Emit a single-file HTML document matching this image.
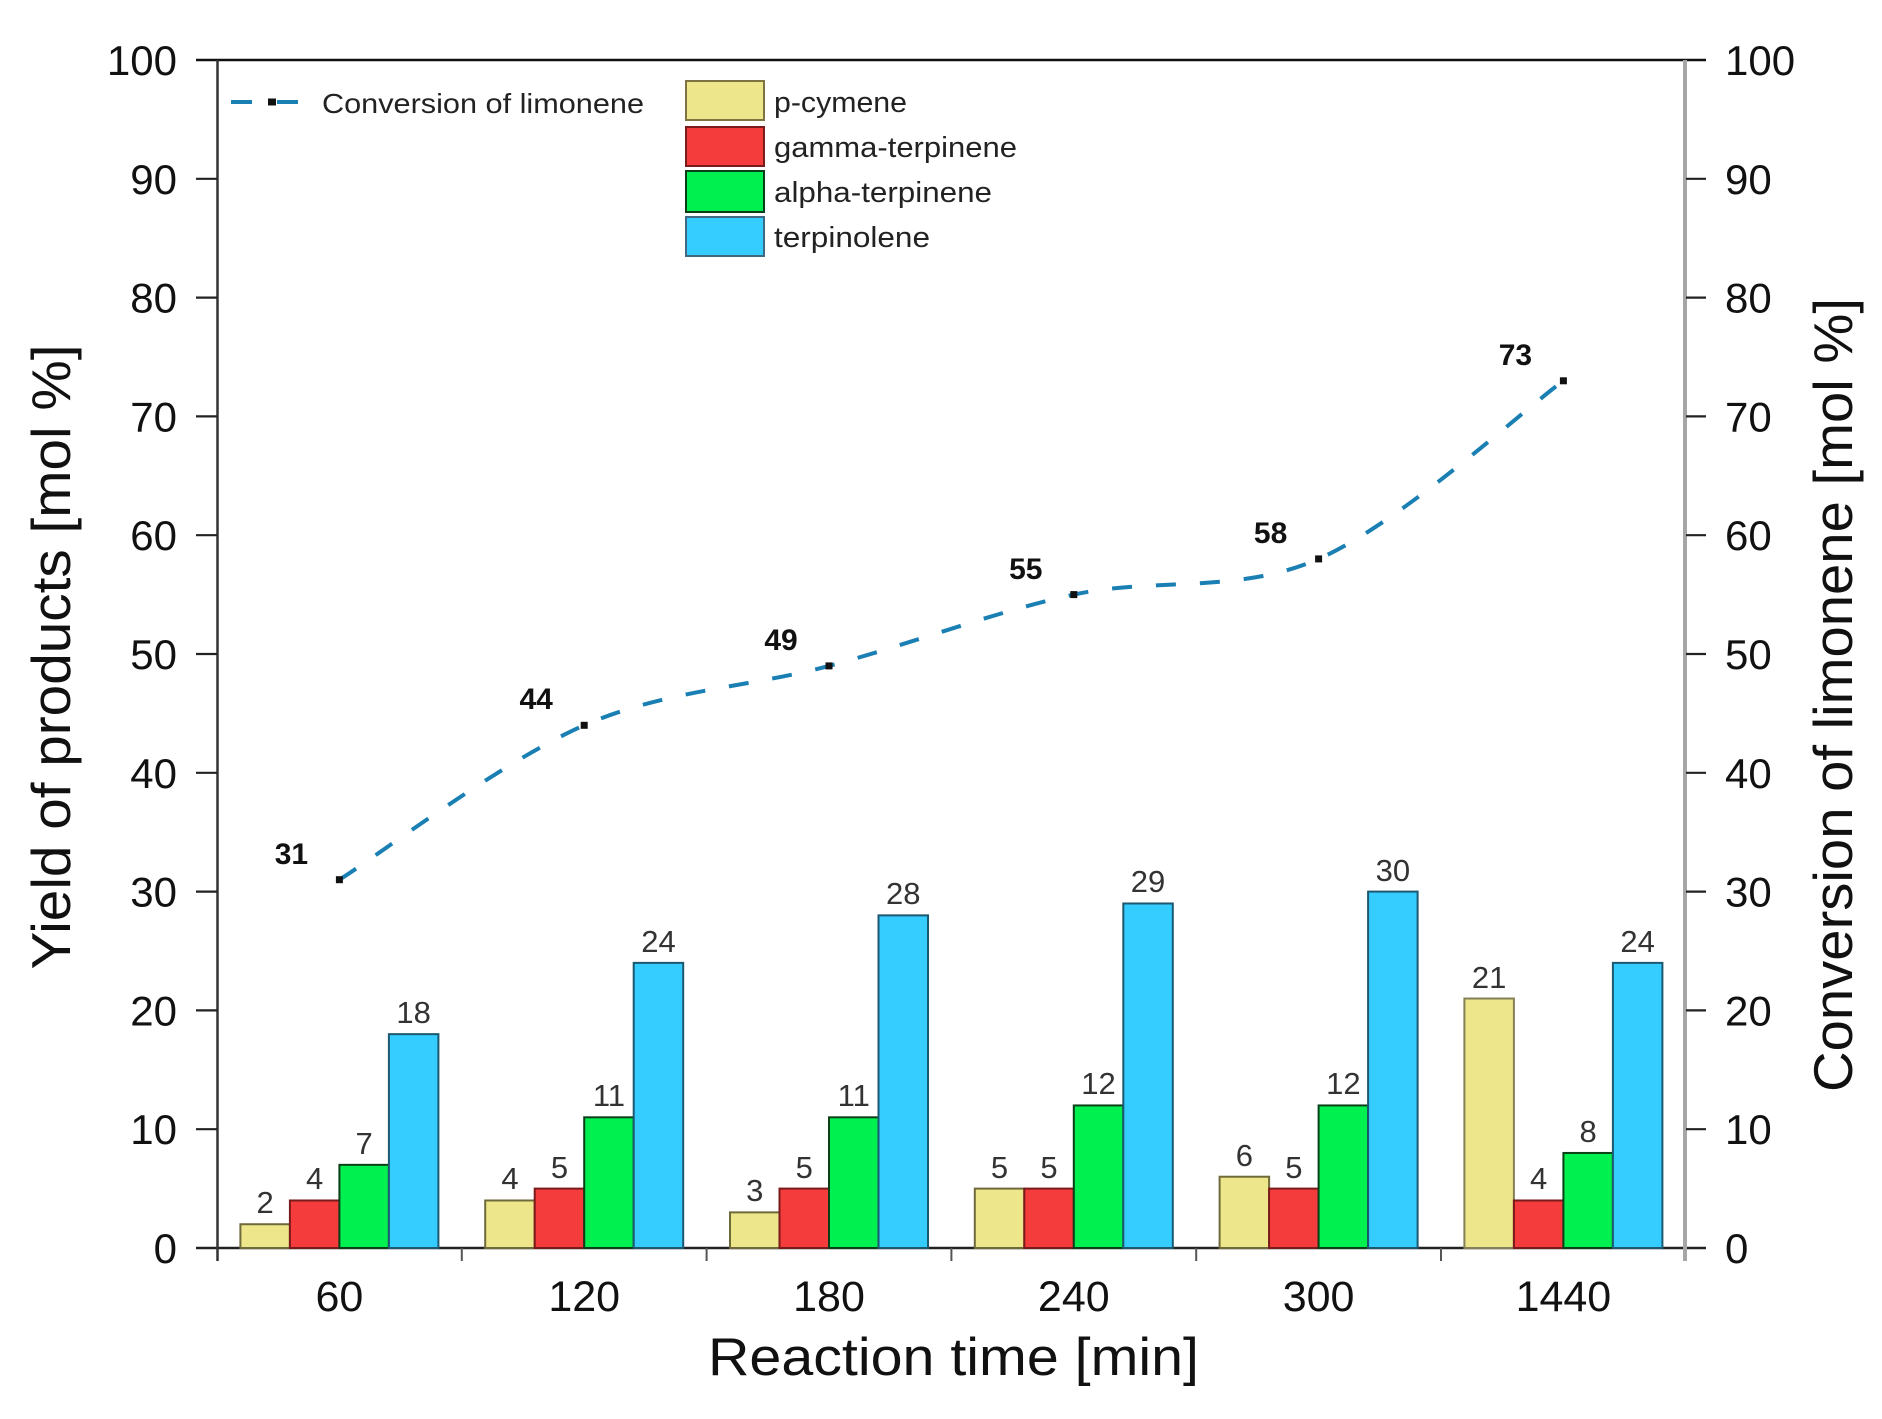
<!DOCTYPE html>
<html>
<head>
<meta charset="utf-8">
<style>
html,body{margin:0;padding:0;background:#fff;}
svg{display:block;}
text{font-family:"Liberation Sans",Arial,sans-serif;}
</style>
</head>
<body>
<svg width="1882" height="1419" viewBox="0 0 1882 1419" xmlns="http://www.w3.org/2000/svg">
<rect x="0" y="0" width="1882" height="1419" fill="#fff"/>

<!-- axes -->
<line x1="196" y1="60" x2="1706" y2="60" stroke="#111" stroke-width="2.5"/>
<line x1="196" y1="1248" x2="1706" y2="1248" stroke="#222" stroke-width="2.5"/>
<line x1="217.5" y1="60" x2="217.5" y2="1261" stroke="#333" stroke-width="2.5"/>
<line x1="1685" y1="60" x2="1685" y2="1261" stroke="#a6a6a6" stroke-width="4"/>

<!-- left ticks -->
<g stroke="#222" stroke-width="2.2">
<line x1="196" y1="1129.2" x2="217" y2="1129.2"/>
<line x1="196" y1="1010.4" x2="217" y2="1010.4"/>
<line x1="196" y1="891.6" x2="217" y2="891.6"/>
<line x1="196" y1="772.8" x2="217" y2="772.8"/>
<line x1="196" y1="654" x2="217" y2="654"/>
<line x1="196" y1="535.2" x2="217" y2="535.2"/>
<line x1="196" y1="416.4" x2="217" y2="416.4"/>
<line x1="196" y1="297.6" x2="217" y2="297.6"/>
<line x1="196" y1="178.8" x2="217" y2="178.8"/>
</g>
<!-- right ticks -->
<g stroke="#222" stroke-width="2.2">
<line x1="1686" y1="1129.2" x2="1706" y2="1129.2"/>
<line x1="1686" y1="1010.4" x2="1706" y2="1010.4"/>
<line x1="1686" y1="891.6" x2="1706" y2="891.6"/>
<line x1="1686" y1="772.8" x2="1706" y2="772.8"/>
<line x1="1686" y1="654" x2="1706" y2="654"/>
<line x1="1686" y1="535.2" x2="1706" y2="535.2"/>
<line x1="1686" y1="416.4" x2="1706" y2="416.4"/>
<line x1="1686" y1="297.6" x2="1706" y2="297.6"/>
<line x1="1686" y1="178.8" x2="1706" y2="178.8"/>
</g>
<!-- x ticks -->
<g stroke="#555" stroke-width="2">
<line x1="461.8" y1="1248" x2="461.8" y2="1261"/>
<line x1="706.6" y1="1248" x2="706.6" y2="1261"/>
<line x1="951.4" y1="1248" x2="951.4" y2="1261"/>
<line x1="1196.2" y1="1248" x2="1196.2" y2="1261"/>
<line x1="1441" y1="1248" x2="1441" y2="1261"/>
</g>

<!-- left tick labels -->
<g font-size="42" fill="#111" text-anchor="end">
<text x="177" y="1263">0</text>
<text x="177" y="1144.2">10</text>
<text x="177" y="1025.4">20</text>
<text x="177" y="906.6">30</text>
<text x="177" y="787.8">40</text>
<text x="177" y="669">50</text>
<text x="177" y="550.2">60</text>
<text x="177" y="431.4">70</text>
<text x="177" y="312.6">80</text>
<text x="177" y="193.8">90</text>
<text x="177" y="75">100</text>
</g>
<!-- right tick labels -->
<g font-size="42" fill="#111" text-anchor="start">
<text x="1725" y="1263">0</text>
<text x="1725" y="1144.2">10</text>
<text x="1725" y="1025.4">20</text>
<text x="1725" y="906.6">30</text>
<text x="1725" y="787.8">40</text>
<text x="1725" y="669">50</text>
<text x="1725" y="550.2">60</text>
<text x="1725" y="431.4">70</text>
<text x="1725" y="312.6">80</text>
<text x="1725" y="193.8">90</text>
<text x="1725" y="75">100</text>
</g>

<!-- x tick labels -->
<g font-size="43" fill="#111" text-anchor="middle">
<text x="339.4" y="1311">60</text>
<text x="584.2" y="1311">120</text>
<text x="829" y="1311">180</text>
<text x="1073.8" y="1311">240</text>
<text x="1318.6" y="1311">300</text>
<text x="1563.4" y="1311">1440</text>
</g>

<!-- axis titles -->
<text x="708" y="1375" font-size="53" fill="#111" textLength="491" lengthAdjust="spacingAndGlyphs">Reaction time [min]</text>
<text transform="translate(70,657) rotate(-90)" font-size="55" fill="#111" text-anchor="middle" textLength="625" lengthAdjust="spacingAndGlyphs">Yield of products [mol %]</text>
<text transform="translate(1852,695) rotate(-90)" font-size="55" fill="#111" text-anchor="middle" textLength="794" lengthAdjust="spacingAndGlyphs">Conversion of limonene [mol %]</text>

<!-- bars -->
<g stroke-width="2">
<!-- group 60 -->
<rect x="240.4" y="1224.24" width="49.5" height="23.76" fill="#ede68a" stroke="#6f6a3a"/>
<rect x="289.9" y="1200.48" width="49.5" height="47.52" fill="#f43c3c" stroke="#7a1a1a"/>
<rect x="339.4" y="1164.84" width="49.5" height="83.16" fill="#00f050" stroke="#0a3f18"/>
<rect x="388.9" y="1034.16" width="49.5" height="213.84" fill="#35ccff" stroke="#1c5870"/>
<!-- group 120 -->
<rect x="485.2" y="1200.48" width="49.5" height="47.52" fill="#ede68a" stroke="#6f6a3a"/>
<rect x="534.7" y="1188.6" width="49.5" height="59.4" fill="#f43c3c" stroke="#7a1a1a"/>
<rect x="584.2" y="1117.32" width="49.5" height="130.68" fill="#00f050" stroke="#0a3f18"/>
<rect x="633.7" y="962.88" width="49.5" height="285.12" fill="#35ccff" stroke="#1c5870"/>
<!-- group 180 -->
<rect x="730" y="1212.36" width="49.5" height="35.64" fill="#ede68a" stroke="#6f6a3a"/>
<rect x="779.5" y="1188.6" width="49.5" height="59.4" fill="#f43c3c" stroke="#7a1a1a"/>
<rect x="829" y="1117.32" width="49.5" height="130.68" fill="#00f050" stroke="#0a3f18"/>
<rect x="878.5" y="915.36" width="49.5" height="332.64" fill="#35ccff" stroke="#1c5870"/>
<!-- group 240 -->
<rect x="974.8" y="1188.6" width="49.5" height="59.4" fill="#ede68a" stroke="#6f6a3a"/>
<rect x="1024.3" y="1188.6" width="49.5" height="59.4" fill="#f43c3c" stroke="#7a1a1a"/>
<rect x="1073.8" y="1105.44" width="49.5" height="142.56" fill="#00f050" stroke="#0a3f18"/>
<rect x="1123.3" y="903.48" width="49.5" height="344.52" fill="#35ccff" stroke="#1c5870"/>
<!-- group 300 -->
<rect x="1219.6" y="1176.72" width="49.5" height="71.28" fill="#ede68a" stroke="#6f6a3a"/>
<rect x="1269.1" y="1188.6" width="49.5" height="59.4" fill="#f43c3c" stroke="#7a1a1a"/>
<rect x="1318.6" y="1105.44" width="49.5" height="142.56" fill="#00f050" stroke="#0a3f18"/>
<rect x="1368.1" y="891.6" width="49.5" height="356.4" fill="#35ccff" stroke="#1c5870"/>
<!-- group 1440 -->
<rect x="1464.4" y="998.52" width="49.5" height="249.48" fill="#ede68a" stroke="#858058"/>
<rect x="1513.9" y="1200.48" width="49.5" height="47.52" fill="#f43c3c" stroke="#7a1a1a"/>
<rect x="1563.4" y="1152.96" width="49.5" height="95.04" fill="#00f050" stroke="#0a3f18"/>
<rect x="1612.9" y="962.88" width="49.5" height="285.12" fill="#35ccff" stroke="#1c5870"/>
</g>

<!-- bar value labels -->
<g font-size="31" fill="#333" text-anchor="middle">
<text x="265.15" y="1213">2</text>
<text x="314.65" y="1189">4</text>
<text x="364.15" y="1154">7</text>
<text x="413.65" y="1023">18</text>

<text x="509.95" y="1189">4</text>
<text x="559.45" y="1178">5</text>
<text x="608.95" y="1106">11</text>
<text x="658.45" y="952">24</text>

<text x="754.75" y="1201">3</text>
<text x="804.25" y="1178">5</text>
<text x="853.75" y="1106">11</text>
<text x="903.25" y="904">28</text>

<text x="999.55" y="1178">5</text>
<text x="1049.05" y="1178">5</text>
<text x="1098.55" y="1094">12</text>
<text x="1148.05" y="892">29</text>

<text x="1244.35" y="1166">6</text>
<text x="1293.85" y="1178">5</text>
<text x="1343.35" y="1094">12</text>
<text x="1392.85" y="881">30</text>

<text x="1489.15" y="988">21</text>
<text x="1538.65" y="1189">4</text>
<text x="1588.15" y="1142">8</text>
<text x="1637.65" y="952">24</text>
</g>

<!-- conversion line -->
<path d="M339.4,879.7 C380.2,854.0 502.6,760.9 584.2,725.3 C665.8,689.7 747.4,687.7 829,665.9 C910.6,644.1 992.2,612.4 1073.8,594.6 C1155.4,576.8 1237,594.5 1318.6,558.9 C1400.2,523.3 1522.6,410.5 1563.4,380.8"
 fill="none" stroke="#1a7fb2" stroke-width="4" stroke-dasharray="20 24"/>
<g fill="#111">
<rect x="335.9" y="876.2" width="7" height="7"/>
<rect x="580.7" y="721.8" width="7" height="7"/>
<rect x="825.5" y="662.4" width="7" height="7"/>
<rect x="1070.3" y="591.1" width="7" height="7"/>
<rect x="1315.1" y="555.4" width="7" height="7"/>
<rect x="1559.9" y="377.3" width="7" height="7"/>
</g>
<g font-size="30" font-weight="bold" fill="#111" text-anchor="middle">
<text x="291.4" y="864">31</text>
<text x="536.2" y="709">44</text>
<text x="781" y="650">49</text>
<text x="1025.8" y="579">55</text>
<text x="1270.6" y="543">58</text>
<text x="1515.4" y="365">73</text>
</g>

<!-- legend: line -->
<line x1="231" y1="102" x2="252" y2="102" stroke="#1a7fb2" stroke-width="4"/>
<rect x="268" y="98.5" width="8" height="7" fill="#111"/>
<line x1="277" y1="102" x2="298" y2="102" stroke="#1a7fb2" stroke-width="4"/>
<text x="322" y="113" font-size="28" fill="#222" textLength="322" lengthAdjust="spacingAndGlyphs">Conversion of limonene</text>

<!-- legend: bars -->
<rect x="686" y="81" width="78" height="39" fill="#ede68a" stroke="#7d7343" stroke-width="2"/>
<rect x="686" y="127" width="78" height="39" fill="#f43c3c" stroke="#7a1c1c" stroke-width="2"/>
<rect x="686" y="171" width="78" height="41" fill="#00f050" stroke="#0a3d1a" stroke-width="2"/>
<rect x="686" y="217" width="78" height="39" fill="#35ccff" stroke="#3d6a80" stroke-width="2"/>
<g font-size="29" fill="#222">
<text x="774" y="112" textLength="133" lengthAdjust="spacingAndGlyphs">p-cymene</text>
<text x="774" y="157" textLength="243" lengthAdjust="spacingAndGlyphs">gamma-terpinene</text>
<text x="774" y="202" textLength="218" lengthAdjust="spacingAndGlyphs">alpha-terpinene</text>
<text x="774" y="247" textLength="156" lengthAdjust="spacingAndGlyphs">terpinolene</text>
</g>
</svg>
</body>
</html>
